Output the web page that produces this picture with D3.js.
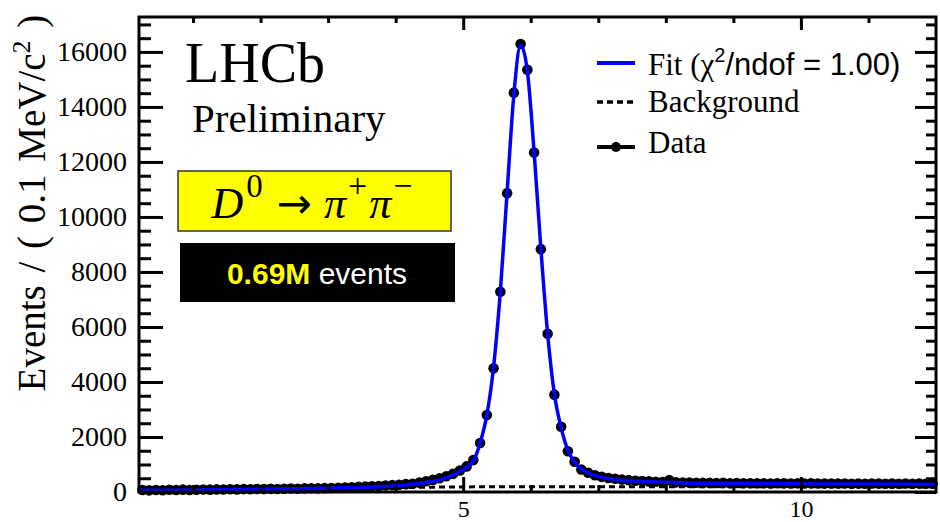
<!DOCTYPE html>
<html lang="en">
  <head>
    <meta charset="UTF-8" />
    <script src="https://cdn.jsdelivr.net/npm/d3@7"></script>
    <title>LHCb D0 to pi+ pi-</title>
    <style>
      body { margin: 0; background: #fff; overflow: hidden; }
      text { font-family: "Liberation Serif", "Times New Roman", serif; }
    </style>
  </head>
  <body>
  </body>
</html>
<script>
const width = 940;
const height = 522;

// histogram: bins of 0.1 starting at 0.2
const binStart = 0.2;
const binWidth = 0.1;
const counts = [
  70, 60, 75, 65, 80, 70, 85, 75, 80, 90,
  85, 95, 90, 100, 95, 105, 100, 110, 105, 115,
  110, 120, 125, 120, 130, 135, 130, 140, 145, 150,
  165, 175, 185, 195, 205, 220, 235, 250, 265, 285,
  300, 340, 390, 440, 500, 570, 660, 780, 930, 1160,
  1780, 2800, 4500, 7280, 10860, 14520, 16290, 15350, 12340, 8830,
  5750, 3540, 2370, 1480, 1100, 820, 700, 610, 550, 510,
  480, 450, 430, 410, 400, 385, 370, 360, 430, 350,
  345, 340, 335, 330, 330, 325, 330, 320, 325, 320,
  320, 315, 320, 310, 320, 315, 310, 315, 310, 315,
  310, 305, 310, 305, 310, 300, 305, 300, 310, 305,
  300, 305, 300, 310, 300, 305, 300, 305
];

// fit curve samples
const fitX = [0.2, 1, 2, 3, 3.5, 4, 4.4, 4.7, 4.9, 5.05, 5.15, 5.25, 5.35, 5.45, 5.55, 5.65, 5.75, 5.85,
  5.95, 6.05, 6.15, 6.25, 6.35, 6.45, 6.55, 6.65, 6.75, 6.85, 7.0, 7.3, 7.7, 8.2, 9, 10, 11, 12];
const fitY = [60, 75, 100, 140, 170, 230, 330, 480, 680, 900, 1120, 1780, 2800, 4550, 7300, 10900, 14450, 16250,
  15300, 12350, 8850, 5750, 3560, 2330, 1520, 1080, 830, 690, 560, 440, 380, 340, 315, 300, 290, 285];

// background component
const bgX = [0.2, 2, 4, 5, 6, 8, 12];
const bgY = [55, 95, 160, 185, 190, 190, 185];

const yMajor = [0, 2000, 4000, 6000, 8000, 10000, 12000, 14000, 16000];
const xMajor = [5, 10];

const legendItems = ["Fit", "Background", "Data"];

const svg = d3.select("body").append("svg")
  .attr("width", width)
  .attr("height", height);

const pLeft = 139, pRight = 936, pTop = 17, pBottom = 492;

const xScale = d3.scaleLinear().domain([0.2, 12]).range([pLeft, pRight]);
const yScale = d3.scaleLinear().domain([0, 17270]).range([pBottom, pTop]);

const points = counts.map((c, i) => ({ x: binStart + binWidth * (i + 0.5), y: c }));

// background (dashed)
svg.append("path")
  .datum(bgX.map((x, i) => [x, bgY[i]]))
  .attr("fill", "none")
  .attr("stroke", "#000")
  .attr("stroke-width", 3)
  .attr("stroke-dasharray", "6 4")
  .attr("d", d3.line().x(d => xScale(d[0])).y(d => yScale(d[1])).curve(d3.curveMonotoneX));

// data points
svg.selectAll(".pt")
  .data(points)
  .enter()
  .append("circle")
  .attr("class", "pt")
  .attr("cx", d => xScale(d.x))
  .attr("cy", d => yScale(d.y))
  .attr("r", 5.3)
  .attr("fill", "#000");

// fit line
svg.append("path")
  .datum(fitX.map((x, i) => [x, fitY[i]]))
  .attr("fill", "none")
  .attr("stroke", "#0000ff")
  .attr("stroke-width", 3.5)
  .attr("d", d3.line().x(d => xScale(d[0])).y(d => yScale(d[1])).curve(d3.curveMonotoneX));

// axes
const yMinor = d3.range(0, 17001, 500).filter(v => v % 2000 !== 0);
const xMinor = d3.range(1, 12).filter(v => v % 5 !== 0);

function styleAxis(g) {
  g.select(".domain").remove();
  g.selectAll(".tick line").attr("stroke", "#000").attr("stroke-width", 3);
  g.selectAll("text")
    .attr("fill", "#000")
    .style("font-family", "'Liberation Serif', serif")
    .style("font-size", "28px");
}

svg.append("g").attr("transform", `translate(${pLeft},0)`)
  .call(d3.axisLeft(yScale).tickValues(yMajor).tickFormat(d3.format("d"))
    .tickSizeInner(-24).tickSizeOuter(0).tickPadding(12))
  .call(styleAxis);
svg.append("g").attr("transform", `translate(${pLeft},0)`)
  .call(d3.axisLeft(yScale).tickValues(yMinor).tickFormat("").tickSizeInner(-12).tickSizeOuter(0))
  .call(styleAxis);
svg.append("g").attr("transform", `translate(${pRight},0)`)
  .call(d3.axisRight(yScale).tickValues(yMajor).tickFormat("").tickSizeInner(-21).tickSizeOuter(0))
  .call(styleAxis);
svg.append("g").attr("transform", `translate(${pRight},0)`)
  .call(d3.axisRight(yScale).tickValues(yMinor).tickFormat("").tickSizeInner(-10).tickSizeOuter(0))
  .call(styleAxis);

svg.append("g").attr("transform", `translate(0,${pTop})`)
  .call(d3.axisTop(xScale).tickValues(xMajor).tickFormat("").tickSizeInner(-13).tickSizeOuter(0))
  .call(styleAxis);
svg.append("g").attr("transform", `translate(0,${pTop})`)
  .call(d3.axisTop(xScale).tickValues(xMinor).tickFormat("").tickSizeInner(-6).tickSizeOuter(0))
  .call(styleAxis);
svg.append("g").attr("transform", `translate(0,${pBottom})`)
  .call(d3.axisBottom(xScale).tickValues(xMajor).tickFormat(d3.format("d"))
    .tickSizeInner(-15).tickSizeOuter(0).tickPadding(8))
  .call(styleAxis)
  .selectAll("text").style("font-size", "24px");
svg.append("g").attr("transform", `translate(0,${pBottom})`)
  .call(d3.axisBottom(xScale).tickValues(xMinor).tickFormat("").tickSizeInner(-7).tickSizeOuter(0))
  .call(styleAxis);

// frame
svg.append("rect")
  .attr("x", pLeft).attr("y", pTop)
  .attr("width", pRight - pLeft).attr("height", pBottom - pTop)
  .attr("fill", "none")
  .attr("stroke", "#000")
  .attr("stroke-width", 3);

// y label
const ylab = svg.append("text")
  .attr("transform", "translate(45,203) rotate(-90)")
  .attr("text-anchor", "middle")
  .style("font-size", "39px")
  .style("word-spacing", "3px");
ylab.append("tspan").text("Events / ( 0.1 MeV/c");
ylab.append("tspan").attr("dy", -15).style("font-size", "26px").text("2");
ylab.append("tspan").attr("dy", 15).text(" )");

// LHCb label
svg.append("text").attr("x", 185).attr("y", 82).style("font-size", "56px").text("LHCb");
svg.append("text").attr("x", 192).attr("y", 132).style("font-size", "41px").text("Preliminary");

// decay box
svg.append("rect")
  .attr("x", 178).attr("y", 171).attr("width", 273).attr("height", 60)
  .attr("fill", "#ffff00").attr("stroke", "#333").attr("stroke-width", 1.5);
const decay = svg.append("text")
  .attr("x", 312).attr("y", 218)
  .attr("text-anchor", "middle")
  .style("font-size", "44px");
decay.append("tspan").style("font-style", "italic").text("D");
decay.append("tspan").attr("dy", -21).attr("dx", 3).style("font-size", "33px").text("0");
decay.append("tspan").attr("dy", 21).attr("dx", 14)
  .style("font-family", "'DejaVu Sans', sans-serif").style("font-size", "42px").text("\u2192");
decay.append("tspan").attr("dx", 12).style("font-style", "italic").text("\u03c0");
decay.append("tspan").attr("dy", -21).attr("dx", 2).style("font-size", "34px").text("+");
decay.append("tspan").attr("dy", 21).attr("dx", 2).style("font-style", "italic").text("\u03c0");
decay.append("tspan").attr("dy", -21).attr("dx", 2).style("font-size", "34px").text("\u2212");

// events box
svg.append("rect")
  .attr("x", 180).attr("y", 243).attr("width", 275).attr("height", 59)
  .attr("fill", "#000");
const ev = svg.append("text")
  .attr("x", 317).attr("y", 284)
  .attr("text-anchor", "middle")
  .style("font-family", "'Liberation Sans', Arial, sans-serif")
  .style("font-size", "30px");
ev.append("tspan").attr("fill", "#ffff00").style("font-weight", "bold").style("font-family", "'Liberation Sans', Arial, sans-serif").text("0.69M");
ev.append("tspan").attr("fill", "#fff").style("font-family", "'Liberation Sans', Arial, sans-serif").text(" events");

// legend
const lx0 = 597, lx1 = 635, ltx = 648;
const legY = [63, 102, 147];
const legBase = [75, 112, 153];

svg.append("line").attr("x1", lx0).attr("x2", lx1).attr("y1", legY[0]).attr("y2", legY[0])
  .attr("stroke", "#0000ff").attr("stroke-width", 4);
svg.append("line").attr("x1", lx0).attr("x2", lx1).attr("y1", legY[1]).attr("y2", legY[1])
  .attr("stroke", "#000").attr("stroke-width", 3.5).attr("stroke-dasharray", "6 4");
svg.append("line").attr("x1", lx0).attr("x2", lx1).attr("y1", legY[2]).attr("y2", legY[2])
  .attr("stroke", "#000").attr("stroke-width", 4);
svg.append("circle").attr("cx", (lx0 + lx1) / 2).attr("cy", legY[2]).attr("r", 5).attr("fill", "#000");

const fitText = svg.append("text").attr("x", ltx).attr("y", legBase[0]).style("font-size", "31px");
fitText.append("tspan").text(legendItems[0] + " (");
fitText.append("tspan").text("\u03c7");
fitText.append("tspan").attr("dy", -13).style("font-size", "20px").style("font-family", "'Liberation Sans', Arial, sans-serif").text("2");
fitText.append("tspan").attr("dy", 13).style("font-family", "'Liberation Sans', Arial, sans-serif").text("/ndof = 1.00)");

svg.append("text").attr("x", ltx).attr("y", legBase[1]).style("font-size", "31px").text(legendItems[1]);
svg.append("text").attr("x", ltx).attr("y", legBase[2]).style("font-size", "31px").text(legendItems[2]);
</script>
